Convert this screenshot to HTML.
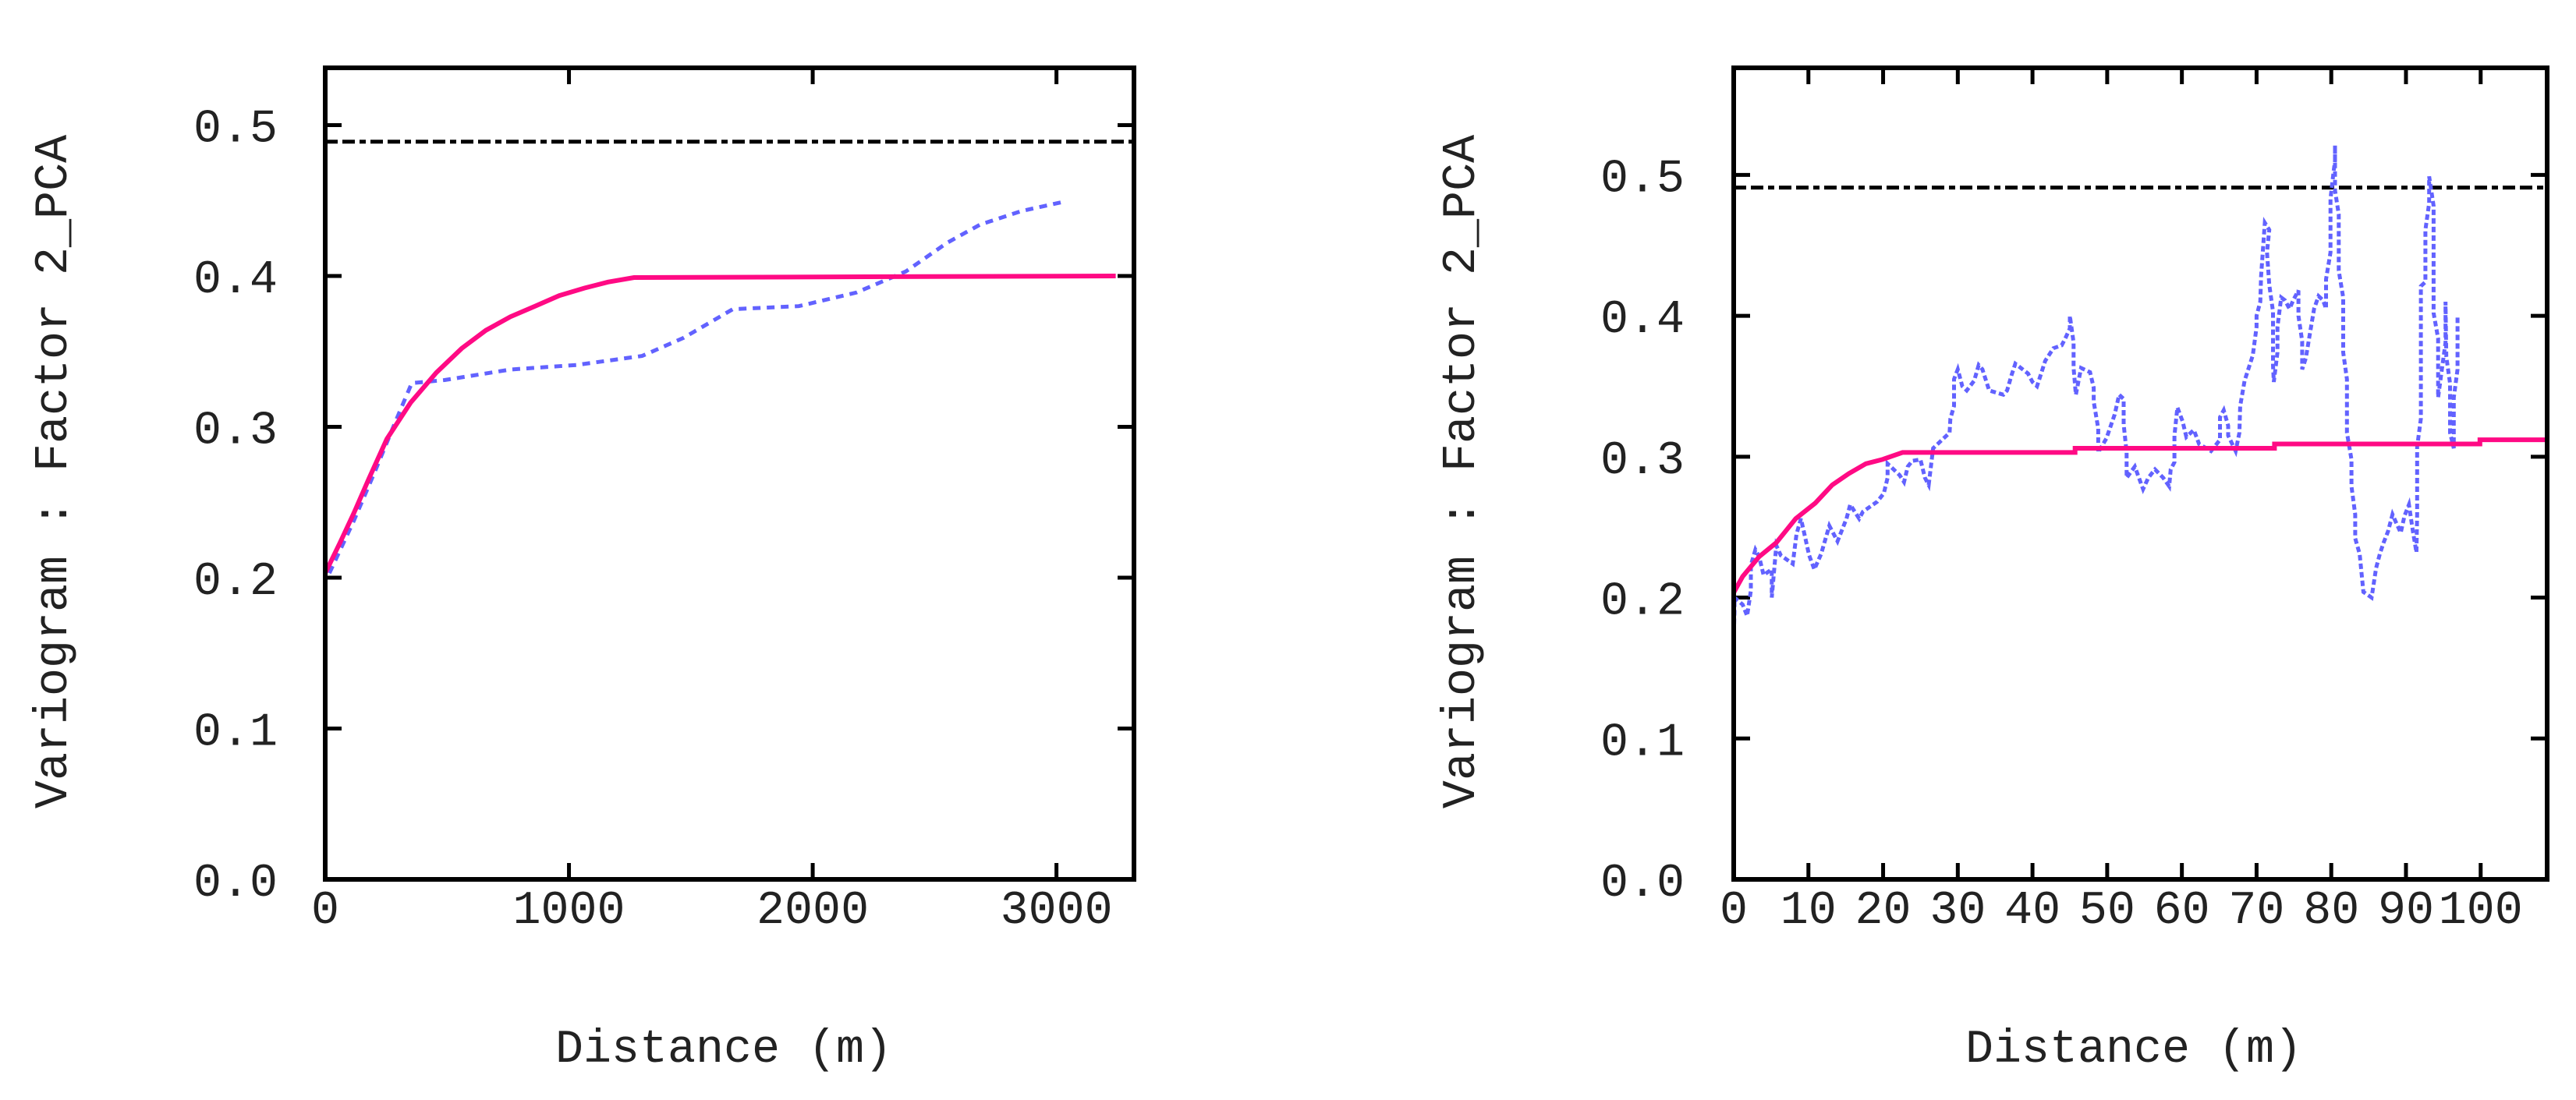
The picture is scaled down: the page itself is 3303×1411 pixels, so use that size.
<!DOCTYPE html>
<html><head><meta charset="utf-8"><style>
html,body{margin:0;padding:0;background:#fff}
svg{display:block}
text{font-family:"Liberation Mono","DejaVu Sans Mono",monospace;fill:#222;font-size:60px}
</style></head><body>
<svg id="chart" width="3303" height="1411" viewBox="0 0 3303 1411" xmlns="http://www.w3.org/2000/svg"></svg>
<script>
// ---- Left panel data ----
const leftXTicks = [0, 1000, 2000, 3000];
const leftYTicks = ["0.0","0.1","0.2","0.3","0.4","0.5"];
const leftSill = 0.489;
const leftExpX = [17,118,203,287,355,490,760,1030,1300,1470,1672,1943,2179,2382,2551,2686,2855,3024];
const leftExpY = [0.203,0.238,0.27,0.303,0.329,0.331,0.338,0.341,0.347,0.359,0.378,0.380,0.389,0.403,0.422,0.434,0.443,0.449];
const leftModX = [0,60,118,180,253,350,456,560,659,760,861,960,1064,1160,1267,3243];
const leftModY = [0.203,0.223,0.243,0.266,0.292,0.316,0.336,0.352,0.364,0.373,0.380,0.387,0.392,0.396,0.399,0.400];
// ---- Right panel data ----
const rightXTicks = [0,10,20,30,40,50,60,70,80,90,100];
const rightYTicks = ["0.0","0.1","0.2","0.3","0.4","0.5"];
const rightSill = 0.491;
const rightExpX = [0,0,0.1,0.1,1.2,1.8,2.3,2.3,2.9,3.4,4,5.1,5.1,5.7,6.3,7.9,8.4,9,9.6,10.1,10.8,11.7,12.8,13.9,15.1,15.6,16.8,17.3,19.2,20.1,20.6,20.6,22.2,22.8,23.3,23.9,25,25.6,26.1,26.7,28.9,29,29.5,29.5,30,30.6,31.2,32.2,32.8,33.3,34.2,36.1,36.6,37.2,37.7,39.4,40,40.6,41.1,41.7,42.8,43.9,44.4,45,45,45.5,45.5,45.8,46.5,47.7,48.2,48.2,48.8,48.8,49.9,51,51.6,52.2,52.2,52.6,52.6,53.7,54.8,55.5,56.4,57.5,58.3,58.5,59,59,59.4,60.1,60.6,61.6,62.3,63.9,65.1,65.1,65.6,66.2,66.2,67.2,67.7,67.8,68.4,69.5,70,70,70.5,70.6,71.1,71.7,71.4,71.7,72.2,72.2,72.2,72.3,72.8,72.8,73.3,73.8,74.4,75,75.6,75.6,76.1,76.1,76.6,77.1,77.7,78.3,78.9,79.3,79.3,79.9,79.9,79.9,80.3,80.5,80.5,80.5,81,81,81,81.6,81.6,81.6,82.1,82.1,82.1,82.7,82.7,83.2,83.2,83.8,84.3,85.4,86,86.5,87,87.6,88.2,88.7,89.3,89.8,90.4,90.9,91.4,91.5,91.5,91.5,92,92,92,92,92.6,92.6,92.6,93.1,93.1,93.7,93.7,93.7,93.7,93.7,94.3,94.3,94.3,94.8,95.3,95.3,95.3,95.4,95.9,95.9,95.9,96.4,96.4,96.4,96.9,96.9,96.9];
const rightExpY = [0.096,0.17,0.19,0.20,0.195,0.187,0.205,0.223,0.234,0.229,0.216,0.22,0.2,0.237,0.23,0.224,0.245,0.256,0.242,0.23,0.22,0.231,0.251,0.24,0.256,0.266,0.256,0.261,0.268,0.274,0.285,0.295,0.287,0.282,0.293,0.297,0.298,0.285,0.28,0.306,0.317,0.327,0.336,0.355,0.362,0.35,0.347,0.354,0.365,0.362,0.347,0.344,0.347,0.358,0.366,0.359,0.353,0.35,0.358,0.368,0.377,0.379,0.384,0.391,0.4,0.381,0.363,0.344,0.363,0.36,0.349,0.339,0.32,0.303,0.313,0.33,0.344,0.341,0.323,0.303,0.285,0.293,0.277,0.285,0.291,0.285,0.279,0.291,0.296,0.315,0.335,0.325,0.314,0.319,0.309,0.304,0.312,0.328,0.333,0.322,0.315,0.304,0.317,0.336,0.354,0.372,0.392,0.4,0.41,0.428,0.466,0.461,0.445,0.422,0.403,0.384,0.365,0.353,0.374,0.392,0.413,0.411,0.405,0.412,0.418,0.4,0.382,0.362,0.37,0.386,0.405,0.414,0.411,0.405,0.426,0.445,0.466,0.483,0.502,0.51,0.521,0.489,0.472,0.451,0.432,0.413,0.394,0.374,0.355,0.336,0.317,0.298,0.279,0.259,0.242,0.231,0.204,0.2,0.221,0.231,0.239,0.247,0.259,0.253,0.246,0.258,0.266,0.248,0.232,0.259,0.287,0.307,0.327,0.362,0.394,0.421,0.424,0.445,0.461,0.48,0.499,0.478,0.458,0.438,0.421,0.402,0.384,0.362,0.342,0.362,0.381,0.403,0.41,0.371,0.352,0.333,0.317,0.306,0.323,0.342,0.362,0.381,0.4];
const rightModX = [0,1.2,3.4,5.7,8.3,10.9,13.2,15.4,17.7,19.9,22.6,45.7,45.7,72.4,72.4,99.9,99.9,108.9];
const rightModY = [0.2035,0.215,0.229,0.239,0.256,0.267,0.28,0.288,0.295,0.298,0.303,0.303,0.306,0.306,0.309,0.309,0.312,0.312];

const NS = "http://www.w3.org/2000/svg";
const svg = document.getElementById('chart');
function mk(tag, attrs, parent) {
  const e = document.createElementNS(NS, tag);
  for (const k in attrs) e.setAttribute(k, attrs[k]);
  (parent || svg).appendChild(e);
  return e;
}

function panel(p) {
  const g = mk('g', {});
  
  
  const sx = v => p.x0 + (v / p.xmax) * (p.x1 - p.x0);
  const sy = v => p.y1 - (v / p.ymax) * (p.y1 - p.y0);
  p.xTicks.forEach(t => {
    const x = sx(t);
    const tb = mk('line', {x1:x, x2:x, y1:p.y1, y2:p.y1-21, stroke:'#000','stroke-width':5}, g);
    
    
    const tt = mk('line', {x1:x, x2:x, y1:p.y0, y2:p.y0+21, stroke:'#000','stroke-width':5}, g);
    
    
    const lb = mk('text', {x:x, y:1184, 'text-anchor':'middle'}, g);
    lb.textContent = String(t);
    
    
  });
  p.yTicks.forEach(t => {
    const y = sy(parseFloat(t));
    if (parseFloat(t) > 0) {
      const tl = mk('line', {x1:p.x0, x2:p.x0+21, y1:y, y2:y, stroke:'#000','stroke-width':5}, g);
      
      
      const tr = mk('line', {x1:p.x1, x2:p.x1-21, y1:y, y2:y, stroke:'#000','stroke-width':5}, g);
      
      
    }
    const lb = mk('text', {x:p.labelRight, y:y+21, 'text-anchor':'end'}, g);
    lb.textContent = t;
    
    
  });
  const sill = mk('line', {x1:p.x0, x2:p.x1, y1:sy(p.sill), y2:sy(p.sill), stroke:'#000','stroke-width':5,'stroke-dasharray':'16 6 16 6 8 6'}, g);
  
  
  const ed = p.ex.map((v,i) => (i?'L':'M') + sx(v).toFixed(1) + ',' + sy(p.ey[i]).toFixed(1)).join(' ');
  const ep = mk('path', {d:ed, fill:'none', stroke:'#6262ff','stroke-width':p.expW,'stroke-dasharray':p.expDash}, g);
  
  
  const md = p.mx.map((v,i) => (i?'L':'M') + sx(v).toFixed(1) + ',' + sy(p.my[i]).toFixed(1)).join(' ');
  const mp = mk('path', {d:md, fill:'none', stroke:'#ff0a84','stroke-width':6}, g);
  
  
  const fr = mk('rect', {x:p.x0, y:p.y0, width:p.x1-p.x0, height:p.y1-p.y0, fill:'none', stroke:'#000','stroke-width':6}, g);
  
  
  const xt = mk('text', {x:p.xTitleX, y:1362, 'text-anchor':'middle'}, g);
  xt.textContent = 'Distance (m)';
  
  
  const yt = mk('text', {x:0, y:0, 'text-anchor':'middle', transform:'translate(' + (p.yTitleX+21) + ',605) rotate(-90)'}, g);
  yt.textContent = 'Variogram : Factor 2_PCA';
  
  
}

panel({name:'left-panel', x0:417, x1:1454, y0:87, y1:1128, xmax:3318, ymax:0.538,
  xTicks:leftXTicks, yTicks:leftYTicks, sill:leftSill, ex:leftExpX, ey:leftExpY, mx:leftModX, my:leftModY,
  labelRight:356, xTitleX:928, yTitleX:64, expW:5, expDash:'10 8'});
panel({name:'right-panel', x0:2223, x1:3266, y0:87, y1:1128, xmax:108.9, ymax:0.576,
  xTicks:rightXTicks, yTicks:rightYTicks, sill:rightSill, ex:rightExpX, ey:rightExpY, mx:rightModX, my:rightModY,
  labelRight:2160, xTitleX:2736, yTitleX:1869, expW:5, expDash:'7 4'});
</script>
</body></html>
